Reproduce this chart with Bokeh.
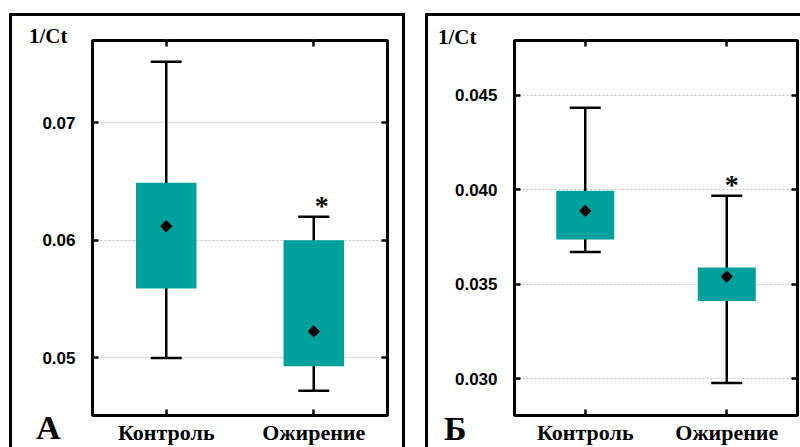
from bokeh.plotting import figure
from bokeh.models import (ColumnDataSource, FixedTicker, PrintfTickFormatter, Whisker,
                          TeeHead, CategoricalAxis, LinearAxis, Range1d, Div)
from bokeh.layouts import row
from bokeh.embed import file_html
from bokeh.resources import INLINE
from bokeh.core.properties import value

categories = ["Контроль", "Ожирение"]

# Panel А
a_q1 = [0.0559, 0.0493]
a_q3 = [0.0649, 0.0600]
a_mean = [0.0612, 0.05225]
a_low = [0.0500, 0.0472]
a_high = [0.0752, 0.0620]
a_ticks = [0.05, 0.06, 0.07]
a_ylim = [0.0451, 0.0770]

# Panel Б
b_q1 = [0.03737, 0.03411]
b_q3 = [0.03995, 0.03589]
b_mean = [0.03888, 0.0354]
b_low = [0.03671, 0.02977]
b_high = [0.04434, 0.03968]
b_ticks = [0.030, 0.035, 0.040, 0.045]
b_ylim = [0.02805, 0.0479]

significant = [False, True]
panel_letters = ["А", "Б"]
y_title = "1/Ct"

TEAL = "#00A19D"
SERIF = "Liberation Serif"
SANS = "Liberation Sans"


def make_panel(q1, q3, mean, low, high, ticks, ylim, fmt,
               width, height, mb, star_dx, margin):
    p = figure(x_range=categories, y_range=Range1d(*ylim), width=width, height=height,
               output_backend="svg", toolbar_location=None, title=None,
               min_border_left=mb[0], min_border_right=mb[1],
               min_border_top=mb[2], min_border_bottom=mb[3])
    p.margin = margin
    p.styles = {"outline": "3px solid black"}
    p.outline_line_color = "black"
    p.outline_line_width = 3
    p.background_fill_color = "white"
    p.border_fill_color = "white"

    src = ColumnDataSource(dict(x=categories, q1=q1, q3=q3, mean=mean, low=low, high=high))

    tick = FixedTicker(ticks=ticks)
    p.yaxis.ticker = tick
    p.ygrid.ticker = tick
    p.yaxis.formatter = PrintfTickFormatter(format=fmt)
    p.xgrid.grid_line_color = None
    p.ygrid.grid_line_color = "#bdbdbd"
    p.ygrid.grid_line_dash = "2 2"
    p.ygrid.grid_line_width = 1

    for ax in [p.xaxis[0], p.yaxis[0]]:
        ax.axis_line_color = None
        ax.major_tick_in = 6
        ax.major_tick_out = 0
        ax.major_tick_line_width = 2.5
        ax.major_tick_line_color = "black"
        ax.minor_tick_line_color = None
    p.yaxis.major_label_text_font = SANS
    p.yaxis.major_label_text_font_style = "bold"
    p.yaxis.major_label_text_font_size = "17px"
    p.yaxis.major_label_text_color = "black"
    p.yaxis.major_label_standoff = 17
    p.xaxis.major_label_text_font = SERIF
    p.xaxis.major_label_text_font_style = "bold"
    p.xaxis.major_label_text_font_size = "22px"
    p.xaxis.major_label_text_color = "black"
    p.xaxis.major_label_standoff = 4

    top = CategoricalAxis(major_tick_in=6, major_tick_out=0, major_tick_line_width=2.5,
                          axis_line_color=None, major_label_text_font_size="1px",
                          major_label_overrides={c: "" for c in categories},
                          major_label_standoff=0, minor_tick_line_color=None)
    p.add_layout(top, "above")
    right = LinearAxis(ticker=tick, major_tick_in=6, major_tick_out=0, major_tick_line_width=2.5,
                       axis_line_color=None, major_label_text_font_size="1px",
                       major_label_overrides={t: "" for t in ticks},
                       major_label_standoff=0, minor_tick_line_color=None)
    p.add_layout(right, "right")

    wh = Whisker(base="x", lower="low", upper="high", source=src, dimension="height",
                 line_width=2.5, line_color="black",
                 upper_head=TeeHead(size=31, line_width=2.5, line_color="black"),
                 lower_head=TeeHead(size=31, line_width=2.5, line_color="black"))
    p.add_layout(wh)
    p.vbar(x="x", top="q3", bottom="q1", width=0.41, source=src,
           fill_color=TEAL, line_color=None)
    p.scatter(x="x", y="mean", source=src, marker="square", angle=0.785398,
              size=8, color="black")

    sx = [c for c, s in zip(categories, significant) if s]
    sy = [h for h, s in zip(high, significant) if s]
    p.text(x=sx, y=sy, text=["*"] * len(sx), x_offset=star_dx, y_offset=-11,
           text_font=value(SERIF), text_font_style="bold", text_font_size="28px",
           text_align="center", text_baseline="alphabetic", text_color="black")
    return p


def text_div(txt, left, top, size):
    return Div(text=txt, styles={
        "position": "absolute", "left": f"{left}px", "top": f"{top}px",
        "font-family": SERIF, "font-weight": "bold", "font-size": f"{size}px",
        "line-height": f"{size}px", "color": "black", "margin": "0", "padding": "0",
        "white-space": "nowrap"})


pA = make_panel(a_q1, a_q3, a_mean, a_low, a_high, a_ticks, a_ylim, "%.2f",
                390, 431, (80, 15, 24, 30), 8, (16, 0, 0, 12))
pB = make_panel(b_q1, b_q3, b_mean, b_low, b_high, b_ticks, b_ylim, "%.3f",
                372, 431, (86, 3, 20, 32), 5, (16, 0, 0, 26))

layout = row(pA, pB,
             text_div(y_title, 29, 26, 21), text_div(y_title, 438, 27, 21),
             text_div(panel_letters[0], 36, 411, 34), text_div(panel_letters[1], 444, 412, 34))
open("out.html", "w").write(file_html(layout, INLINE))
